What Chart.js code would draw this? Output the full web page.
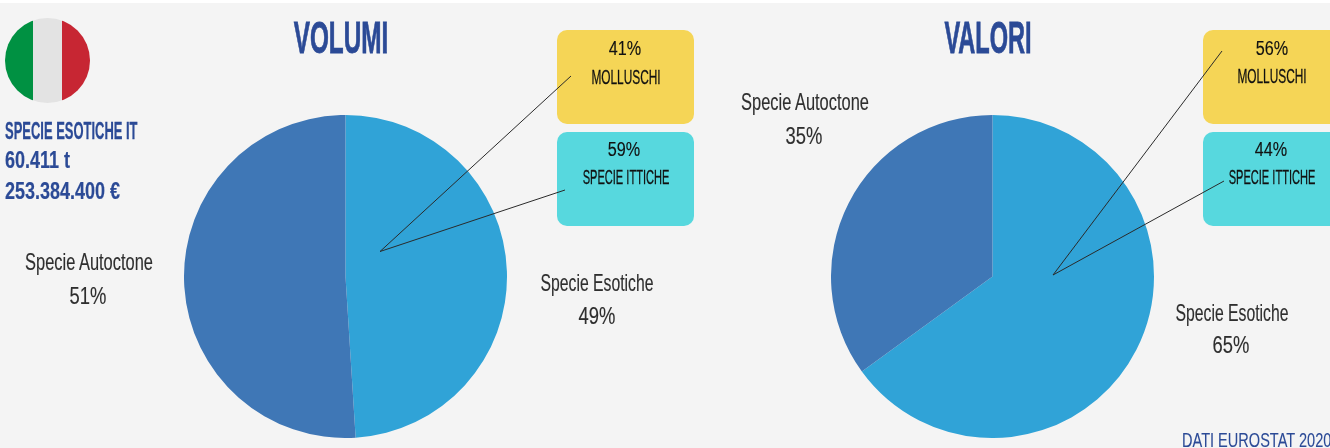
<!DOCTYPE html>
<html>
<head>
<meta charset="utf-8">
<style>
  html, body { margin: 0; padding: 0; }
  body { width: 1330px; height: 448px; overflow: hidden; position: relative; background: #f4f4f4;
         font-family: "Liberation Sans Narrow", "Liberation Sans", sans-serif; }
  #topband { position: absolute; left: 0; top: 0; width: 100%; height: 3px; background: #fff; }
  canvas { position: absolute; }
  .box { position: absolute; width: 137px; height: 94px; border-radius: 10px; }
  .yellow { background: #f5d556; }
  .cyan { background: #57d8de; }
  #flag { position: absolute; left: 5px; top: 18px; width: 85px; height: 85px; border-radius: 50%; overflow: hidden; display: flex; }
  #flag div { flex: 1; }
  #leaders { position: absolute; left: 0; top: 0; }
  .t { position: absolute; white-space: nowrap; transform-origin: center; line-height: 1; }
</style>
</head>
<body>
<div id="topband"></div>
<div id="flag">
  <div style="background:#009142"></div>
  <div style="background:#e3e3e3"></div>
  <div style="background:#c72633"></div>
</div>
<canvas id="volumi" width="323" height="323" style="left:184px;top:115px"></canvas>
<canvas id="valori" width="323" height="323" style="left:831px;top:115px"></canvas>
<div class="box yellow" style="left:557px;top:30px"></div>
<div class="box cyan" style="left:557px;top:131.5px"></div>
<div class="box yellow" style="left:1203px;top:30px"></div>
<div class="box cyan" style="left:1203px;top:131.5px"></div>
<svg id="leaders" width="1330" height="448" stroke="#2a2a2a" stroke-width="1" fill="none">
  <polyline points="571,76 380,251.5 565,190"/>
  <polyline points="1222,51 1053,275 1224,181"/>
</svg>
<script src="https://cdn.jsdelivr.net/npm/chart.js@4"></script>
<script>
const categories = ['Specie Esotiche', 'Specie Autoctone'];
const volumiValues = [49, 51];
const valoriValues = [65, 35];
const volumiSplit = [41, 59];
const valoriSplit = [56, 44];
const splitLabels = ['MOLLUSCHI', 'SPECIE ITTICHE'];
const sliceColors = ['#30a3d7', '#3f77b6'];

const BLUE = '#2b4a96';
const DARK = '#2e2e2e';
const BLACK = '#111';

function makePie(id, values) {
  return new Chart(document.getElementById(id), {
    type: 'pie',
    data: {
      labels: categories,
      datasets: [{ data: values, backgroundColor: sliceColors, borderWidth: 0 }],
    },
    options: {
      responsive: false,
      animation: false,
      layout: { padding: 0 },
      plugins: { legend: { display: false }, tooltip: { enabled: false } },
    },
  });
}
makePie('volumi', volumiValues);
makePie('valori', valoriValues);

// text placed by its centre; sx squeezes it to the condensed look of the original
function put(text, x, y, size, color, sx, stroke = 0, bold = false, left = false) {
  const el = document.createElement('div');
  el.className = 't';
  el.textContent = text;
  el.style.cssText = `left:${x}px;top:${y}px;font-size:${size}px;color:${color};` +
    `font-weight:${bold ? 700 : 400};-webkit-text-stroke:${stroke}px ${color};` +
    (left ? `transform-origin:left center;transform:translateY(-50%) scaleX(${sx});`
          : `transform:translate(-50%,-50%) scaleX(${sx});`);
  document.body.appendChild(el);
}

put('VOLUMI', 341, 37, 45, BLUE, 0.54, 0.8, true);
put('VALORI', 987.5, 37, 45, BLUE, 0.523, 0.8, true);

put('SPECIE ESOTICHE IT', 5, 131, 24, BLUE, 0.54, 0.3, true, true);
put('60.411 t', 5, 160, 24, BLUE, 0.75, 0.2, true, true);
put('253.384.400 €', 5, 191, 24, BLUE, 0.75, 0.2, true, true);

put(categories[1], 88.5, 262, 24, DARK, 0.685, 0.15);
put(volumiValues[1] + '%', 88, 296, 23, DARK, 0.8, 0.15);
put(categories[0], 597, 283, 24, DARK, 0.656, 0.15);
put(volumiValues[0] + '%', 597, 316, 23, DARK, 0.8, 0.15);
put(categories[1], 804.5, 102, 24, DARK, 0.685, 0.15);
put(valoriValues[1] + '%', 804, 136, 23, DARK, 0.8, 0.15);
put(categories[0], 1232, 313, 24, DARK, 0.656, 0.15);
put(valoriValues[0] + '%', 1231, 345, 23, DARK, 0.8, 0.15);

put(volumiSplit[0] + '%', 625, 48, 20, BLACK, 0.81, 0.15);
put(splitLabels[0], 625.5, 76, 21, BLACK, 0.565, 0.3);
put(volumiSplit[1] + '%', 624, 149, 20, BLACK, 0.81, 0.15);
put(splitLabels[1], 625.5, 176, 21, BLACK, 0.527, 0.3);
put(valoriSplit[0] + '%', 1272, 48, 20, BLACK, 0.81, 0.15);
put(splitLabels[0], 1272, 75, 21, BLACK, 0.565, 0.3);
put(valoriSplit[1] + '%', 1271, 149, 20, BLACK, 0.81, 0.15);
put(splitLabels[1], 1272, 176, 21, BLACK, 0.527, 0.3);

put('DATI EUROSTAT 2020', 1182, 439, 21, BLUE, 0.693, 0.1, false, true);
</script>
</body>
</html>
